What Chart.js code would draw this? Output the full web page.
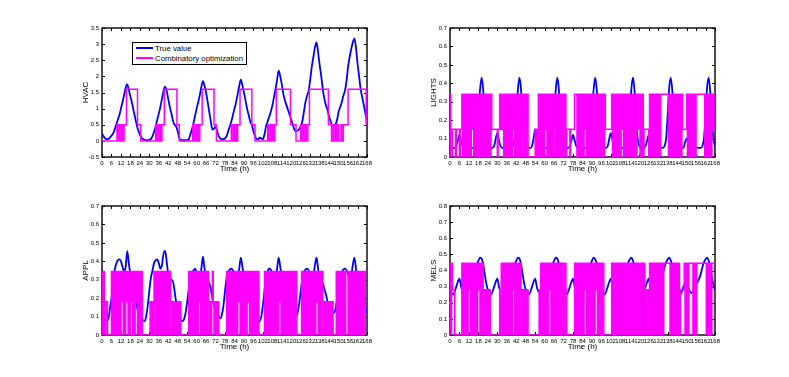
<!DOCTYPE html>
<html>
<head>
<meta charset="utf-8">
<title>Load disaggregation - combinatory optimization</title>
<script src="https://cdn.jsdelivr.net/npm/chart.js@4.4.0/dist/chart.umd.min.js"></script>
<style>
  body { margin: 0; background: #fff; }
  #page { position: relative; width: 789px; height: 377px; overflow: hidden; background: #fff; }
  .panel { position: absolute; width: 320px; height: 166px; }
  #legend {
    position: absolute; left: 132px; top: 42px; width: 113px; height: 21px;
    border: 1px solid #000; background: #fff;
    font: 7.8px "Liberation Sans", Arial, sans-serif; color: #000;
  }
  #legend .row { position: absolute; left: 3px; height: 9px; line-height: 9px; white-space: nowrap; }
  #legend .swatch { display: inline-block; width: 17px; height: 2px; vertical-align: middle; margin-right: 2px; margin-top: -1px; }
</style>
</head>
<body>
<div id="page">
  <div class="panel" style="left:60px;top:14px"><canvas id="hvac" width="320" height="166"></canvas></div>
  <div class="panel" style="left:408px;top:14px"><canvas id="lights" width="320" height="166"></canvas></div>
  <div class="panel" style="left:60px;top:192px"><canvas id="appl" width="320" height="166"></canvas></div>
  <div class="panel" style="left:408px;top:192px"><canvas id="mels" width="320" height="166"></canvas></div>
  <div id="legend">
    <div class="row" style="top:1px"><span class="swatch" style="background:#0000ff"></span>True value</div>
    <div class="row" style="top:11px"><span class="swatch" style="background:#ff00ff"></span>Combinatory optimization</div>
  </div>
</div>
<script>
// ---- data -------------------------------------------------------------
// true load, one value per hour (t = 0 .. 168 h), one row per day
const hvacTrue = [
  0.22,0.14,0.08,0.05,0.06,0.1,0.16,0.22,0.35,0.5,0.65,0.8,1.0,1.2,1.42,1.65,1.75,1.58,1.38,1.18,0.95,0.72,0.5,0.32,
  0.2,0.1,0.06,0.03,0.02,0.02,0.03,0.06,0.15,0.28,0.45,0.65,0.85,1.05,1.3,1.55,1.68,1.55,1.3,1.05,0.85,0.62,0.5,0.45,
  0.3,0.08,0.03,0.02,0.02,0.02,0.02,0.05,0.2,0.35,0.55,0.78,1.0,1.2,1.42,1.68,1.85,1.7,1.5,1.2,0.9,0.6,0.35,0.38,
  0.45,0.3,0.15,0.08,0.05,0.05,0.08,0.15,0.3,0.45,0.6,0.8,1.0,1.2,1.45,1.7,1.9,1.72,1.5,1.25,1.0,0.8,0.6,0.5,
  0.3,0.15,0.06,0.05,0.1,0.08,0.05,0.2,0.45,0.6,0.75,0.9,1.1,1.35,1.6,1.9,2.18,2.0,1.75,1.45,1.25,1.1,0.95,0.8,
  0.65,0.5,0.35,0.3,0.32,0.36,0.45,0.6,0.9,1.2,1.4,1.55,1.9,2.3,2.6,2.9,3.05,2.75,2.35,2.0,1.6,1.3,1.1,0.95,
  0.75,0.6,0.47,0.45,0.5,0.65,0.9,1.05,1.2,1.4,1.55,1.85,2.3,2.6,2.85,3.05,3.18,2.9,2.4,2.0,1.6,1.35,1.1,0.85,
  0.6
];
const lightsTrue = [
  0.05,0.05,0.05,0.05,0.06,0.09,0.12,0.09,0.06,0.05,0.05,0.05,0.05,0.05,0.05,0.05,0.06,0.1,0.22,0.36,0.43,0.37,0.22,0.1,
  0.06,0.05,0.05,0.05,0.06,0.1,0.13,0.09,0.06,0.05,0.05,0.05,0.05,0.05,0.05,0.05,0.06,0.1,0.22,0.36,0.43,0.37,0.22,0.1,
  0.06,0.05,0.05,0.05,0.06,0.1,0.15,0.1,0.06,0.05,0.05,0.05,0.05,0.05,0.05,0.05,0.06,0.1,0.22,0.36,0.43,0.37,0.22,0.1,
  0.06,0.05,0.05,0.05,0.06,0.09,0.12,0.09,0.06,0.05,0.05,0.05,0.05,0.05,0.05,0.05,0.06,0.1,0.22,0.36,0.43,0.37,0.22,0.1,
  0.06,0.05,0.05,0.05,0.06,0.1,0.13,0.09,0.06,0.05,0.05,0.05,0.05,0.05,0.05,0.05,0.06,0.1,0.22,0.37,0.43,0.36,0.21,0.1,
  0.06,0.05,0.05,0.05,0.06,0.09,0.12,0.09,0.06,0.05,0.05,0.05,0.05,0.05,0.05,0.05,0.06,0.1,0.23,0.38,0.43,0.35,0.2,0.1,
  0.06,0.05,0.05,0.05,0.05,0.08,0.1,0.08,0.06,0.05,0.05,0.05,0.05,0.05,0.05,0.05,0.06,0.1,0.23,0.38,0.43,0.35,0.2,0.1,
  0.06
];
const applTrue = [
  0.1,0.09,0.08,0.075,0.085,0.14,0.2,0.27,0.35,0.385,0.405,0.41,0.4,0.37,0.345,0.37,0.455,0.39,0.33,0.3,0.26,0.21,0.16,0.12,
  0.1,0.09,0.08,0.075,0.1,0.16,0.24,0.31,0.35,0.39,0.405,0.41,0.39,0.36,0.38,0.44,0.457,0.4,0.33,0.31,0.3,0.29,0.24,0.18,
  0.14,0.1,0.08,0.075,0.085,0.12,0.18,0.25,0.32,0.34,0.35,0.36,0.34,0.32,0.3,0.36,0.425,0.36,0.32,0.3,0.28,0.25,0.2,0.16,
  0.13,0.11,0.1,0.09,0.11,0.16,0.24,0.31,0.34,0.355,0.36,0.35,0.33,0.31,0.3,0.36,0.42,0.37,0.32,0.3,0.28,0.26,0.22,0.17,
  0.13,0.1,0.08,0.07,0.075,0.1,0.16,0.24,0.31,0.345,0.36,0.355,0.33,0.31,0.3,0.36,0.42,0.37,0.32,0.3,0.28,0.25,0.21,0.17,
  0.13,0.11,0.1,0.1,0.12,0.17,0.24,0.3,0.34,0.355,0.36,0.35,0.33,0.31,0.32,0.38,0.42,0.36,0.3,0.29,0.28,0.25,0.22,0.18,
  0.15,0.13,0.12,0.12,0.14,0.19,0.26,0.31,0.34,0.355,0.36,0.35,0.33,0.31,0.32,0.38,0.42,0.36,0.3,0.29,0.27,0.25,0.2,0.15,
  0.12
];
const melsTrue = [
  0.28,0.26,0.25,0.27,0.3,0.33,0.35,0.3,0.27,0.26,0.27,0.29,0.31,0.33,0.35,0.38,0.41,0.44,0.46,0.48,0.475,0.44,0.38,0.32,
  0.28,0.26,0.25,0.27,0.3,0.33,0.35,0.3,0.27,0.26,0.27,0.29,0.31,0.33,0.35,0.38,0.41,0.44,0.46,0.48,0.475,0.44,0.38,0.32,
  0.28,0.26,0.25,0.27,0.3,0.33,0.35,0.3,0.27,0.26,0.27,0.29,0.31,0.33,0.35,0.38,0.41,0.44,0.46,0.48,0.475,0.44,0.38,0.32,
  0.28,0.26,0.25,0.27,0.3,0.33,0.35,0.3,0.27,0.26,0.27,0.29,0.31,0.33,0.35,0.38,0.41,0.44,0.46,0.48,0.47,0.44,0.38,0.32,
  0.28,0.26,0.25,0.27,0.3,0.33,0.35,0.3,0.27,0.26,0.27,0.29,0.31,0.33,0.35,0.38,0.42,0.45,0.47,0.48,0.46,0.42,0.36,0.31,
  0.28,0.26,0.25,0.27,0.3,0.33,0.35,0.3,0.27,0.26,0.27,0.29,0.31,0.33,0.35,0.38,0.42,0.45,0.47,0.48,0.46,0.42,0.36,0.31,
  0.28,0.26,0.25,0.27,0.3,0.32,0.33,0.3,0.27,0.26,0.27,0.29,0.31,0.33,0.35,0.38,0.42,0.45,0.47,0.48,0.46,0.42,0.36,0.31,
  0.28
];

// combinatory optimization output: one code per half hour, one string per day,
// each code is an index into the level list of that load
const hvacLevels = [0, 0.5, 1.6];
const hvacOpt = [
  "00000000 00000000 00010010 01001112 22222222 22222111",
  "10000000 00000000 00001001 00101112 22222222 22222221",
  "11000000 00000000 00010010 01001112 22222222 22222211",
  "10000000 00000000 00001001 00101112 22222222 22222211",
  "11000000 00000000 00100100 10011222 22222222 22222221",
  "11111100 00001001 00100112 22222222 22222222 22222221",
  "11100100 10010001 00111111 22222222 22222222 22222221"
];
const lightsLevels = [0, 0.15, 0.34];
const lightsOpt = [
  "20011110 11110112 02020202 02021202 02020220 20202020",
  "20202111 11110112 11210202 02020202 12020202 02022020",
  "20200000 00001010 20202020 21202020 20202202 02020202",
  "20201111 01111122 20202020 20212020 20202020 22020202",
  "20202111 11111202 02020202 02120202 02020202 02020212",
  "20202011 11110202 02020202 02022222 22222020 20202020",
  "20202021 11112020 20202020 22222222 22202020 20201212"
];
const applLevels = [0, 0.18, 0.345];
const applOpt = [
  "20200110 00002020 20202020 21202021 20202120 20212020",
  "20200000 00000101 01202020 20202020 20202021 01010101",
  "01010000 00000020 20202020 20212020 20202021 01012101",
  "01010000 00000020 20202020 20202120 20202020 21202020",
  "20202020 00000020 20202020 20202020 21202020 20202020",
  "20202020 00000202 02020202 02020202 12020202 10101010",
  "10101000 02020202 02020222 02020202 02020202 02020022"
];
const melsLevels = [0, 0.28, 0.445];
const melsOpt = [
  "20211100 00000002 02020202 12020202 02021202 02101010",
  "10100000 00000001 02020202 02020202 12020202 02101010",
  "10100000 00000000 01020202 02020212 02020202 02020202",
  "20210000 00000020 20202020 20212020 20202020 21202020",
  "20200000 00000202 02020202 02020202 02022020 20202020",
  "20202020 10110202 02020202 02020202 22222220 20202020",
  "20201111 12020202 22220202 02222222 22222020 20202222"
];

// ---- helpers ----------------------------------------------------------
function truePoints(vals) {
  return vals.map((v, i) => ({ x: i, y: v }));
}

function optPoints(days, levels) {
  const codes = days.join('').replace(/ /g, '');
  const pts = [];
  for (let i = 0; i < codes.length; i++) {
    pts.push({ x: i * 0.5, y: levels[Number(codes[i])] });
  }
  // hold the last level up to the end of the week
  pts.push({ x: 168, y: pts[pts.length - 1].y });
  return pts;
}

const tickFont = { family: '"Liberation Sans", Arial, sans-serif', size: 6 };
const titleFont = { family: '"Liberation Sans", Arial, sans-serif', size: 8 };

// matlab style box with inward ticks on all four sides
const boxPlugin = {
  id: 'box',
  beforeDatasetsDraw(chart) {
    const { ctx, chartArea: a, scales: { x, y } } = chart;
    ctx.save();
    ctx.strokeStyle = '#000';
    ctx.lineWidth = 1;
    ctx.beginPath();
    x.ticks.forEach(t => {
      const px = Math.round(x.getPixelForValue(t.value)) + 0.5;
      ctx.moveTo(px, a.bottom); ctx.lineTo(px, a.bottom - 3);
      ctx.moveTo(px, a.top); ctx.lineTo(px, a.top + 3);
    });
    y.ticks.forEach(t => {
      const py = Math.round(y.getPixelForValue(t.value)) + 0.5;
      ctx.moveTo(a.left, py); ctx.lineTo(a.left + 3, py);
      ctx.moveTo(a.right, py); ctx.lineTo(a.right - 3, py);
    });
    ctx.stroke();
    ctx.lineWidth = 1.4;
    ctx.strokeRect(a.left, a.top, a.right - a.left, a.bottom - a.top);
    ctx.restore();
  }
};

function makeChart(id, name, trueVals, optDays, levels, yMin, yMax, yStep) {
  return new Chart(document.getElementById(id), {
    type: 'line',
    data: {
      datasets: [
        {
          label: 'True value',
          data: truePoints(trueVals),
          borderColor: '#0000ff',
          borderWidth: 1.8,
          pointRadius: 0,
          cubicInterpolationMode: 'monotone',
          order: 2
        },
        {
          label: 'Combinatory optimization',
          data: optPoints(optDays, levels),
          borderColor: '#ff00ff',
          borderWidth: 1.5,
          pointRadius: 0,
          stepped: true,
          order: 1
        }
      ]
    },
    options: {
      responsive: false,
      animation: false,
      devicePixelRatio: 1,
      layout: { padding: { top: 14, right: 13, left: 0, bottom: 0 } },
      plugins: { legend: { display: false }, tooltip: { enabled: false } },
      scales: {
        x: {
          type: 'linear',
          min: 0,
          max: 168,
          grid: { display: false, drawTicks: false },
          border: { display: false },
          ticks: {
            stepSize: 6, autoSkip: false, maxRotation: 0, minRotation: 0,
            padding: 3, color: '#000', font: tickFont,
            callback: v => String(v)
          },
          title: { display: true, text: 'Time (h)', color: '#000', font: titleFont, padding: { top: 0, bottom: 6 } },
          afterFit: s => { s.height = 23; }
        },
        y: {
          type: 'linear',
          min: yMin,
          max: yMax,
          grid: { display: false, drawTicks: false },
          border: { display: false },
          ticks: {
            stepSize: yStep, padding: 3, color: '#000', font: tickFont,
            callback: v => String(Math.round(v * 10) / 10)
          },
          title: { display: true, text: name, color: '#000', font: titleFont, padding: { top: 21, bottom: 0 } },
          afterFit: s => { s.width = 42; }
        }
      }
    },
    plugins: [boxPlugin]
  });
}

makeChart('hvac', 'HVAC', hvacTrue, hvacOpt, hvacLevels, -0.5, 3.5, 0.5);
makeChart('lights', 'LIGHTS', lightsTrue, lightsOpt, lightsLevels, 0, 0.7, 0.1);
makeChart('appl', 'APPL', applTrue, applOpt, applLevels, 0, 0.7, 0.1);
makeChart('mels', 'MELS', melsTrue, melsOpt, melsLevels, 0, 0.8, 0.1);
</script>
</body>
</html>
